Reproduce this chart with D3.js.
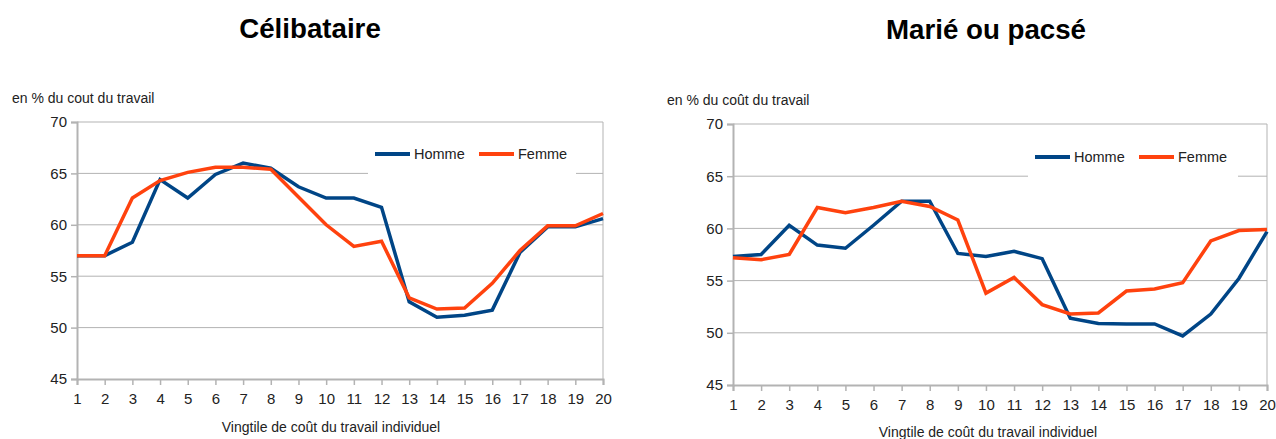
<!DOCTYPE html>
<html>
<head>
<meta charset="utf-8">
<script src="https://cdn.jsdelivr.net/npm/d3@7"></script>
<style>
  body { margin: 0; background: #fff; }
  svg { display: block; font-family: "Liberation Sans", Arial, sans-serif; }
</style>
</head>
<body>
<svg id="chart" width="1276" height="439"></svg>
<script>
// Vingtiles 1..20
const vingtiles = d3.range(1, 21);
const yTicks = [45, 50, 55, 60, 65, 70];
const seriesNames = ['Homme', 'Femme'];

// Célibataire
const celibHomme = [57.0, 57.0, 58.3, 64.4, 62.6, 64.9, 66.0, 65.5, 63.7, 62.6,
                    62.6, 61.7, 52.5, 51.0, 51.2, 51.7, 57.3, 59.8, 59.8, 60.6];
const celibFemme = [57.0, 57.0, 62.6, 64.3, 65.1, 65.6, 65.6, 65.4, 62.7, 60.0,
                    57.9, 58.4, 52.9, 51.8, 51.9, 54.3, 57.5, 59.9, 59.9, 61.1];

// Marié ou pacsé
const marieHomme = [57.3, 57.5, 60.3, 58.4, 58.1, 60.3, 62.6, 62.6, 57.6, 57.3,
                    57.8, 57.1, 51.4, 50.9, 50.85, 50.85, 49.7, 51.8, 55.2, 59.7];
const marieFemme = [57.2, 57.0, 57.5, 62.0, 61.5, 62.0, 62.6, 62.1, 60.8, 53.8,
                    55.3, 52.7, 51.8, 51.9, 54.0, 54.2, 54.8, 58.8, 59.8, 59.9];

const colors = { Homme: '#004586', Femme: '#ff420e' };
const gridColor = '#b3b3b3';
const textColor = '#222';

const svg = d3.select('#chart');

const panels = [
  {
    title: 'Célibataire', titleX: 310, titleY: 38,
    yLabel: 'en % du cout du travail', yLabelX: 12, yLabelY: 103,
    xLabel: 'Vingtile de coût du travail individuel', xLabelX: 331, xLabelY: 432,
    left: 77, right: 603, top: 122, bottom: 379,
    tickLabelY: 404,
    legend: { x: 375, y: 154, gapX: 368, gapW: 208 },
    data: { Homme: celibHomme, Femme: celibFemme }
  },
  {
    title: 'Marié ou pacsé', titleX: 986, titleY: 39,
    yLabel: 'en % du coût du travail', yLabelX: 667, yLabelY: 105,
    xLabel: 'Vingtile de coût du travail individuel', xLabelX: 988, xLabelY: 437,
    left: 733, right: 1267, top: 124, bottom: 385,
    tickLabelY: 410,
    legend: { x: 1035, y: 157, gapX: 1028, gapW: 210 },
    data: { Homme: marieHomme, Femme: marieFemme }
  }
];

panels.forEach(p => {
  const x = d3.scaleLinear().domain([1, 20]).range([p.left, p.right]);
  const y = d3.scaleLinear().domain([45, 70]).range([p.bottom, p.top]);
  const g = svg.append('g');

  // title
  g.append('text')
    .attr('x', p.titleX).attr('y', p.titleY)
    .attr('text-anchor', 'middle')
    .attr('font-size', 27.7).attr('font-weight', 'bold')
    .attr('fill', '#000')
    .text(p.title);

  // horizontal grid
  g.append('g')
    .selectAll('line')
    .data(yTicks.filter(d => d > 45))
    .join('line')
    .attr('x1', p.left).attr('x2', p.right)
    .attr('y1', d => y(d)).attr('y2', d => y(d))
    .attr('stroke', gridColor).attr('stroke-width', 1);

  // right border of plot
  g.append('line')
    .attr('x1', p.right).attr('x2', p.right)
    .attr('y1', p.top).attr('y2', p.bottom)
    .attr('stroke', gridColor).attr('stroke-width', 1);

  // y axis
  const yAxis = g.append('g')
    .attr('transform', `translate(${p.left},0)`)
    .call(d3.axisLeft(y).tickValues(yTicks).tickSize(6).tickPadding(4));
  yAxis.select('.domain').attr('stroke', gridColor).attr('stroke-width', 2);
  yAxis.selectAll('.tick line').attr('stroke', gridColor).attr('stroke-width', 1.5);
  yAxis.selectAll('.tick text')
    .attr('font-size', 15).attr('fill', textColor)
    .attr('font-family', '"Liberation Sans", Arial, sans-serif');

  // x axis
  const xAxis = g.append('g')
    .attr('transform', `translate(0,${p.bottom})`)
    .call(d3.axisBottom(x).tickValues(vingtiles).tickFormat(d3.format('d')).tickSize(6).tickPadding(5));
  xAxis.select('.domain').attr('stroke', gridColor).attr('stroke-width', 2);
  xAxis.selectAll('.tick line').attr('stroke', gridColor).attr('stroke-width', 1.5);
  xAxis.selectAll('.tick text')
    .attr('font-size', 15).attr('fill', textColor)
    .attr('dy', null)
    .attr('y', p.tickLabelY - p.bottom)
    .attr('font-family', '"Liberation Sans", Arial, sans-serif');

  // axis titles
  g.append('text')
    .attr('x', p.yLabelX).attr('y', p.yLabelY)
    .attr('font-size', 14).attr('fill', textColor)
    .text(p.yLabel);
  g.append('text')
    .attr('x', p.xLabelX).attr('y', p.xLabelY)
    .attr('text-anchor', 'middle')
    .attr('font-size', 14).attr('fill', textColor)
    .text(p.xLabel);

  // lines
  const line = d3.line().x((d, i) => x(vingtiles[i])).y(d => y(d));
  seriesNames.forEach(name => {
    g.append('path')
      .datum(p.data[name])
      .attr('d', line)
      .attr('fill', 'none')
      .attr('stroke', colors[name])
      .attr('stroke-width', 3.5)
      .attr('stroke-linejoin', 'miter');
  });

  // legend (white box hides gridline behind it)
  const lg = g.append('g');
  lg.append('rect')
    .attr('x', p.legend.gapX).attr('y', p.legend.y - 17)
    .attr('width', p.legend.gapW).attr('height', 38)
    .attr('fill', '#fff');
  seriesNames.forEach((name, i) => {
    const lx = p.legend.x + i * 104;
    lg.append('line')
      .attr('x1', lx).attr('x2', lx + 35)
      .attr('y1', p.legend.y).attr('y2', p.legend.y)
      .attr('stroke', colors[name]).attr('stroke-width', 4);
    lg.append('text')
      .attr('x', lx + 39).attr('y', p.legend.y + 5)
      .attr('font-size', 14.5).attr('fill', textColor)
      .text(name);
  });
});
</script>
</body>
</html>
